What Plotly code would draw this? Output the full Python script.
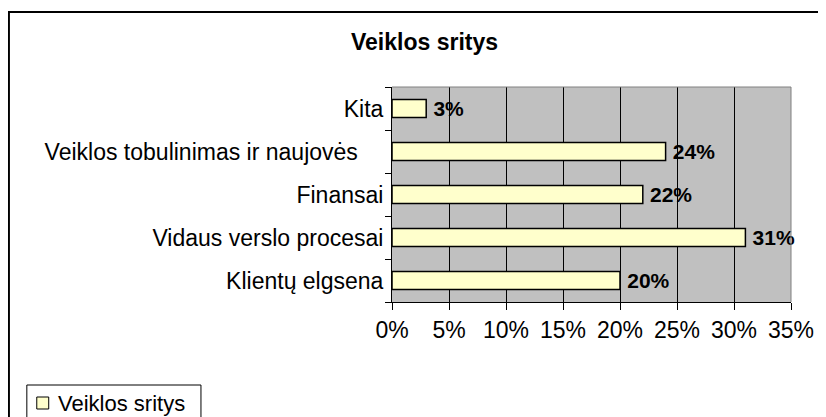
import plotly.graph_objects as go

categories = ["Klientų elgsena", "Vidaus verslo procesai", "Finansai",
              "Veiklos tobulinimas ir naujovės\u00a0\u00a0\u00a0\u00a0", "Kita"]
values = [0.20, 0.31, 0.22, 0.24, 0.03]
series_name = "Veiklos sritys"
title_text = "Veiklos sritys"

OFF = 8                      # page body margin
W, H = 826 - OFF, 417 - OFF
# plot area in page pixels
PL, PR, PT, PB = 392, 793, 87, 302
L, R, T, B = PL - OFF, PR - OFF, PT - OFF, PB - OFF


def xp(px):  # page px -> paper x
    return (px - OFF - L) / (R - L)


def yp(py):  # page px -> paper y
    return (B - (py - OFF)) / (B - T)


FONT = "Liberation Sans, Arial, sans-serif"

fig = go.Figure()
fig.add_trace(go.Bar(
    y=categories, x=values, orientation="h", name=series_name,
    marker=dict(color="#FFFFCC", line=dict(color="black", width=1.5)),
    texttemplate="\u2009%{x:.0%}", textposition="outside",
    textfont=dict(family=FONT, size=21, color="black", weight="bold"),
    constraintext="none", cliponaxis=False, showlegend=False,
))

fig.update_layout(
    width=W, height=H,
    margin=dict(l=L, r=W - R, t=T, b=H - B, pad=0),
    paper_bgcolor="white", plot_bgcolor="#C0C0C0",
    font=dict(family=FONT, color="black"),
    bargap=0.58,
    showlegend=False,
    xaxis=dict(range=[0, 0.35], dtick=0.05, tick0=0, tickformat=".0%",
               showgrid=True, gridcolor="black", gridwidth=1,
               zeroline=False, showline=True, linecolor="black", linewidth=1,
               ticks="outside", ticklen=7, tickcolor="black",
               tickfont=dict(size=23, family=FONT), fixedrange=True),
    yaxis=dict(type="category", showgrid=False, zeroline=False,
               showline=True, linecolor="black", linewidth=1,
               ticks="outside", ticklen=6, tickcolor="black",
               tickson="boundaries", ticklabelstandoff=3,
               tickfont=dict(size=23, family=FONT), fixedrange=True),
    annotations=[
        dict(text="<b>" + title_text + "</b>", xref="paper", yref="paper",
             x=xp(425), y=yp(42), xanchor="center", yanchor="middle",
             showarrow=False, font=dict(size=23, family=FONT)),
        dict(text=series_name, xref="paper", yref="paper",
             x=xp(54), y=yp(403), xanchor="left", yanchor="middle",
             showarrow=False, font=dict(size=22, family=FONT)),
    ],
    shapes=[
        # outer chart border
        dict(type="rect", xref="paper", yref="paper",
             x0=xp(7), x1=xp(822), y0=yp(12), y1=yp(440),
             line=dict(color="black", width=2), layer="above"),
        # plot area top/right border
        dict(type="line", xref="paper", yref="paper", x0=0, x1=1, y0=1, y1=1,
             line=dict(color="#808080", width=1), layer="above"),
        dict(type="line", xref="paper", yref="paper", x0=1, x1=1, y0=0, y1=1,
             line=dict(color="#808080", width=1), layer="above"),
        # legend box
        dict(type="rect", xref="paper", yref="paper",
             x0=xp(25), x1=xp(200), y0=yp(385), y1=yp(440),
             line=dict(color="black", width=1), fillcolor="white", layer="above"),
        # legend key
        dict(type="rect", xref="paper", yref="paper",
             x0=xp(35), x1=xp(47), y0=yp(397), y1=yp(409),
             line=dict(color="black", width=1), fillcolor="#FFFFCC", layer="above"),
    ],
)

fig.write_html("out.html")
